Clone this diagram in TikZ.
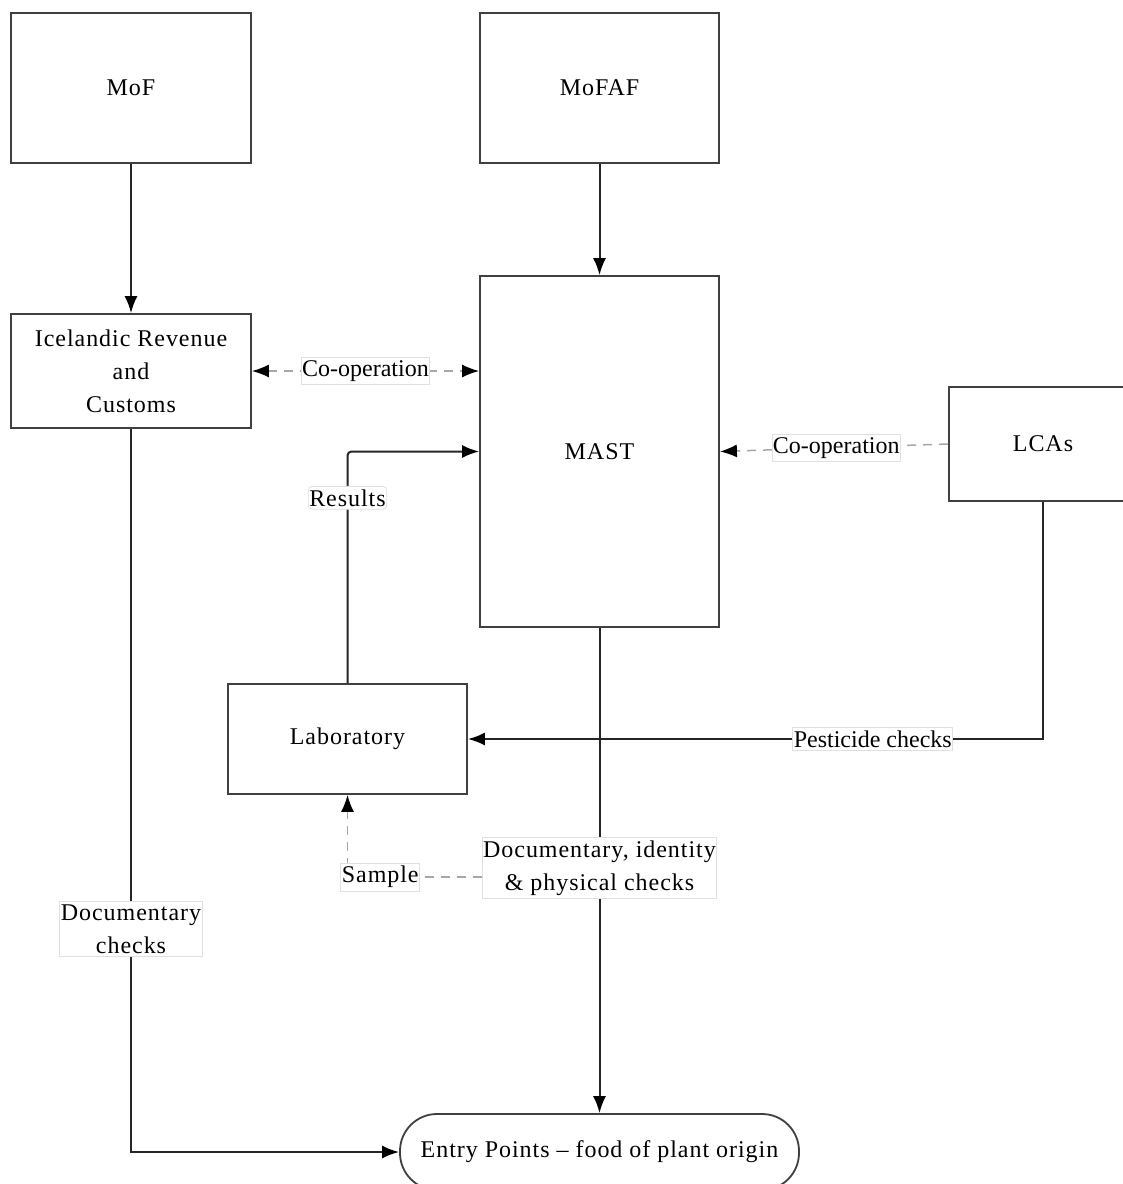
\documentclass[tikz,border=0pt]{standalone}
\usepackage{fontspec}
\setmainfont{Liberation Serif}[LetterSpace=4]
\newfontfamily\plainserif{Liberation Serif}
\usetikzlibrary{arrows.meta}
\begin{document}
\begin{tikzpicture}[x=1pt,y=-1pt,
  font=\fontsize{24}{33}\selectfont,
  box/.style={draw=black!75,line width=1.8pt,fill=white,align=center,inner sep=0pt},
  lbl/.style={draw=black!12,solid,line width=0.8pt,fill=white,align=center,inner xsep=1pt,inner ysep=3pt},
  tip/.style={-{Latex[length=17pt,width=13pt,color=black]}},
  conn/.style={draw=black!85,line width=2pt,tip},
  dconn/.style={draw=black!35,line width=1.5pt,dash pattern=on 9pt off 7pt,tip},
  ddconn/.style={draw=black!35,line width=1.5pt,dash pattern=on 9pt off 7pt,
    {Latex[length=17pt,width=13pt,color=black]}-{Latex[length=17pt,width=13pt,color=black]}}
]
\useasboundingbox (0,0) rectangle (1123,1184);
\clip (0,0) rectangle (1123,1184);
\fill[white] (0,0) rectangle (1123,1184);

\node[box,minimum width=240pt,minimum height=150pt] (mof) at (131,88) {MoF};
\node[box,minimum width=239pt,minimum height=150pt] (mofaf) at (599.5,88) {MoFAF};
\node[box,minimum width=240pt,minimum height=114pt] (customs) at (131,371) {Icelandic Revenue\\and\\Customs};
\node[box,minimum width=239pt,minimum height=351pt] (mast) at (599.5,451.5) {MAST};
\node[box,minimum width=188pt,minimum height=114pt] (lcas) at (1043,444) {LCAs};
\node[box,minimum width=239pt,minimum height=110pt] (lab) at (347.5,739) {Laboratory};
\node[box,minimum width=399pt,minimum height=76pt,rounded corners=37pt] (entry) at (599.5,1152) {Entry Points -- food of plant origin};

\draw[conn] (mof) -- (customs);
\draw[conn] (mofaf) -- (mast);
\draw[ddconn] (customs.east) -- (customs.east -| mast.west)
  node[lbl,midway,font=\fontsize{24}{33}\plainserif] (coop1) {Co-operation};
\draw[dconn] (lcas.west) -- (mast.east)
  node[lbl,pos=0.49,font=\fontsize{24}{33}\plainserif] (coop2) {Co-operation};
\draw[conn,rounded corners=4pt] (lab.north) |- (mast.west)
  node[lbl,pos=0.4] (results) {Results};
\draw[conn] (lcas.south) |- (lab.east)
  node[lbl,pos=0.648,font=\fontsize{24}{33}\plainserif] (pest) {Pesticide checks};
\draw[conn] (mast.south) -- (entry.north)
  node[lbl,pos=0.495] (docid) {Documentary, identity\\\& physical checks};
\draw[dconn] ([yshift=-9pt]docid.west) -| (lab.south)
  node[lbl,pos=0.378] (sample) {Sample};
\draw[conn] (customs.south) |- (entry.west)
  node[lbl,pos=0.346] (doccheck) {Documentary\\checks};
\end{tikzpicture}
\end{document}
